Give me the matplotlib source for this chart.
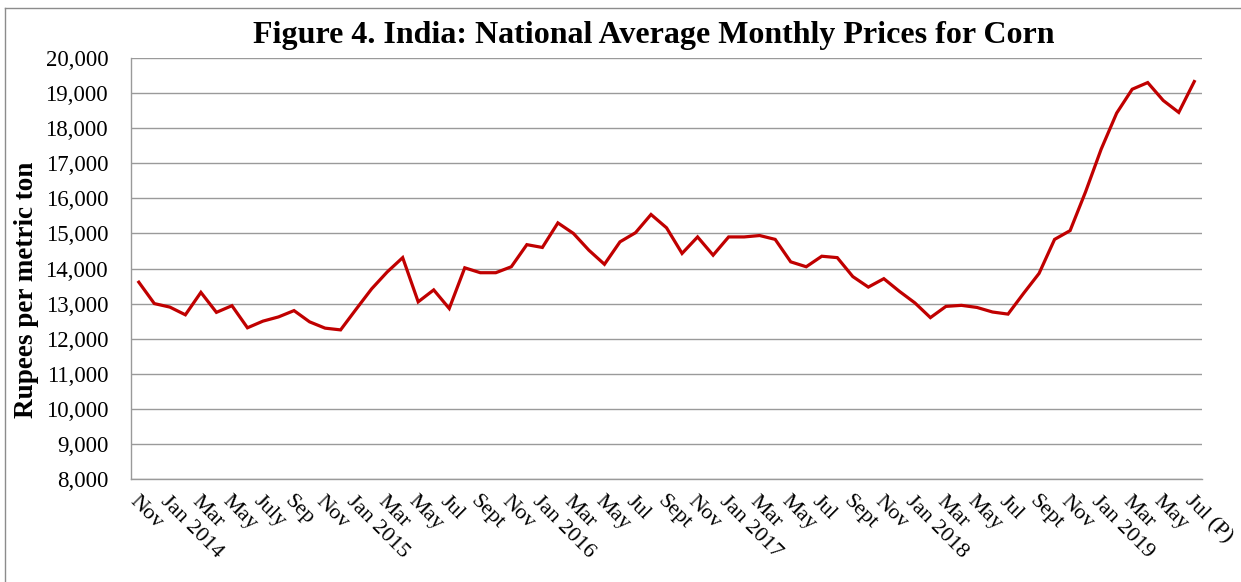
import matplotlib
matplotlib.use("Agg")
import matplotlib.pyplot as plt
from matplotlib.lines import Line2D
from matplotlib.ticker import FuncFormatter
import matplotlib.transforms as mtransforms

plt.rcParams['font.family'] = ['Liberation Serif', 'DejaVu Serif']

# monthly prices, Nov 2013 .. Jul 2019 (P), rupees per metric ton
prices = [13610, 13000, 12900, 12680, 13320, 12750, 12940, 12310, 12500, 12620,
          12800, 12480, 12300, 12250, 12840, 13420, 13900, 14310, 13050, 13390,
          12860, 14020, 13880, 13880, 14050, 14680, 14600, 15300, 15000, 14520,
          14120, 14760, 15020, 15540, 15160, 14430, 14900, 14380, 14900, 14900,
          14940, 14830, 14190, 14050, 14350, 14310, 13770, 13470, 13710, 13350,
          13020, 12600, 12920, 12950, 12890, 12760, 12700, 13290, 13860, 14830,
          15080, 16190, 17400, 18430, 19110, 19300, 18790, 18450, 19330]

# every second month gets a label
tick_labels = ['Nov', 'Jan 2014', 'Mar', 'May', 'July', 'Sep', 'Nov', 'Jan 2015',
               'Mar', 'May', 'Jul', 'Sept', 'Nov', 'Jan 2016', 'Mar', 'May', 'Jul',
               'Sept', 'Nov', 'Jan 2017', 'Mar', 'May', 'Jul', 'Sept', 'Nov',
               'Jan 2018', 'Mar', 'May', 'Jul', 'Sept', 'Nov', 'Jan 2019', 'Mar',
               'May', 'Jul (P)']

fig = plt.figure(figsize=(12.41, 5.82), dpi=100)
ax = fig.add_axes([0.1056, 0.177, 0.863, 0.7233])

x = list(range(len(prices)))
ax.plot(x, prices, color='#C00000', linewidth=2.3, solid_joinstyle='miter', zorder=3)

ax.set_xlim(-0.5, len(prices) - 0.5)
ax.set_ylim(8000, 20000)
ax.set_yticks(range(8000, 20001, 1000))
ax.yaxis.set_major_formatter(FuncFormatter(lambda v, p: '{:,.0f}'.format(v)))
ax.grid(axis='y', color='#9a9a9a', linewidth=1.0)
ax.set_axisbelow(True)

for s in ['top', 'right']:
    ax.spines[s].set_visible(False)
for s in ['left', 'bottom']:
    ax.spines[s].set_color('#9a9a9a')
    ax.spines[s].set_linewidth(1.0)

ax.tick_params(axis='y', length=0, pad=16.5, labelsize=16.5)
ax.tick_params(axis='x', length=0)
ax.set_xticks(range(0, len(prices), 2))
ax.set_xticklabels([])

# rotated category labels hanging from each tick
offset = mtransforms.ScaledTranslation(0, -13 / 100, fig.dpi_scale_trans)
for i, lab in zip(range(0, len(prices), 2), tick_labels):
    ax.text(i, 0, lab, transform=ax.get_xaxis_transform() + offset,
            rotation=-45, ha='left', va='top', rotation_mode='anchor',
            fontsize=16)

ax.set_ylabel('Rupees per metric ton', fontsize=19.5, fontweight='bold')
ax.yaxis.set_label_coords(39 / 1241, 1 - 290 / 582, transform=fig.transFigure)

fig.text(654 / 1241, 1 - 35 / 582, 'Figure 4. India: National Average Monthly Prices for Corn',
         ha='center', va='center', fontsize=23, fontweight='bold')

# chart frame (only top and left edges are visible)
fig.add_artist(Line2D([5 / 1241, 1], [1 - 8 / 582, 1 - 8 / 582], color='#8c8c8c', linewidth=1.0))
fig.add_artist(Line2D([5 / 1241, 5 / 1241], [0, 1 - 8 / 582], color='#8c8c8c', linewidth=1.0))

fig.savefig('out.png', dpi=100)
